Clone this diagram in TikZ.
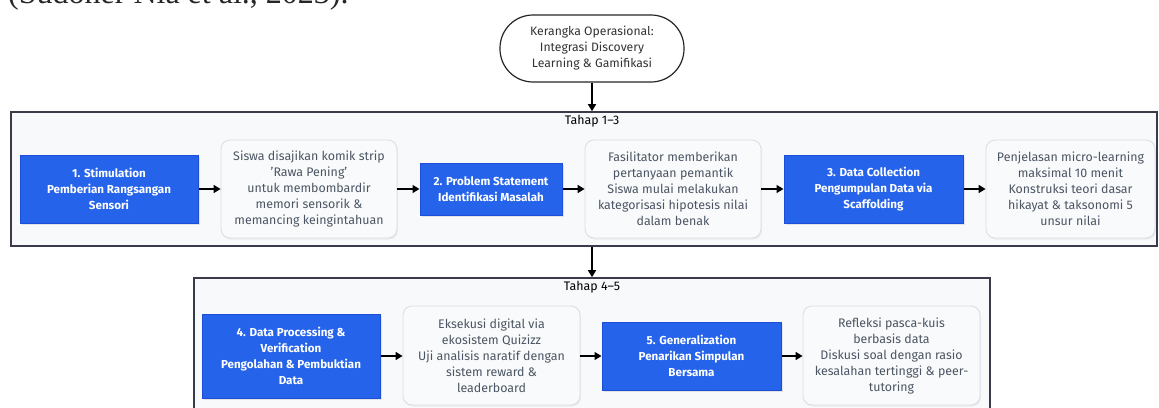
\documentclass[tikz,border=0pt]{standalone}
\usepackage{fontspec}
\setmainfont{Fira Sans}
\newfontfamily\citefont{Liberation Serif}
\usetikzlibrary{arrows.meta,shadows}
\definecolor{stepblue}{HTML}{2563EB}
\definecolor{stepborder}{HTML}{1D4ED8}
\definecolor{grpfill}{HTML}{F8F9FB}
\definecolor{grpborder}{HTML}{3A3A4A}
\definecolor{descfill}{HTML}{F9FAFB}
\definecolor{descborder}{HTML}{D8DDE5}
\definecolor{desctext}{HTML}{4B5563}
\tikzset{
  x=1pt,y=1pt,
  stepbox/.style={draw=stepborder, line width=1pt, fill=stepblue, text=white,
    font=\fontsize{11.6}{16}\selectfont\bfseries, align=center, inner sep=0pt,
    drop shadow={opacity=0.18, shadow xshift=1.5pt, shadow yshift=-1.5pt}},
  descbox/.style={draw=descborder, line width=0.8pt, fill=descfill, text=desctext,
    rounded corners=9pt, font=\fontsize{12.4}{16}\selectfont, align=center, inner sep=0pt,
    drop shadow={opacity=0.10, shadow xshift=1pt, shadow yshift=-1.5pt}},
  grpbox/.style={draw=grpborder, line width=1.6pt, fill=grpfill, inner sep=0pt},
  grplabel/.style={font=\fontsize{12.4}{14}\selectfont, text=black, inner sep=0pt},
  startbox/.style={draw=black!85, line width=1.2pt, fill=white, rounded corners=33pt,
    font=\fontsize{12.2}{16}\selectfont, text=black!80, align=center, inner sep=0pt},
  conn/.style={draw=black, line width=1.4pt, -{Triangle[length=7pt,width=8pt]}},
}
\begin{document}
\begin{tikzpicture}
\useasboundingbox (0,0) rectangle (1159,-407);
\clip (0,0) rectangle (1159,-407);
\node[anchor=base west, inner sep=0pt, font=\citefont\fontsize{32}{34}\selectfont, text=black!85] (cite) at (8,-3.5) {(Sudoner Nia et al., 2023).};

% start
\node[startbox, minimum width=184, minimum height=67] (start) at (592,-48.5)
  {Kerangka Operasional:\\Integrasi Discovery\\Learning \& Gamifikasi};

% group 1
\node[grpbox, minimum width=1146, minimum height=134] (g1) at (584,-179) {};
\node[grplabel] (g1lab) at (592,-121) {Tahap 1–3};

\node[stepbox, minimum width=178, minimum height=68] (b1) at (109,-189)
  {1. Stimulation\\Pemberian Rangsangan\\Sensori};
\node[descbox, minimum width=176, minimum height=98] (d1) at (309,-189)
  {Siswa disajikan komik strip\\'Rawa Pening'\\untuk membombardir\\memori sensorik \&\\memancing keingintahuan};
\node[stepbox, minimum width=142, minimum height=52] (b2) at (491,-189)
  {2. Problem Statement\\Identifikasi Masalah};
\node[descbox, minimum width=176, minimum height=98] (d2) at (673,-189)
  {Fasilitator memberikan\\pertanyaan pemantik\\Siswa mulai melakukan\\kategorisasi hipotesis nilai\\dalam benak};
\node[stepbox, minimum width=179, minimum height=68] (b3) at (873.5,-189)
  {3. Data Collection\\Pengumpulan Data via\\Scaffolding};
\node[descbox, minimum width=169, minimum height=98] (d3) at (1070.5,-189)
  {Penjelasan micro-learning\\maksimal 10 menit\\Konstruksi teori dasar\\hikayat \& taksonomi 5\\unsur nilai};

% group 2
\node[grpbox, minimum width=796, minimum height=150] (g2) at (592,-353) {};
\node[grplabel] (g2lab) at (592,-287) {Tahap 4–5};

\node[stepbox, minimum width=178, minimum height=84] (b4) at (291,-356)
  {4. Data Processing \&\\Verification\\Pengolahan \& Pembuktian\\Data};
\node[descbox, minimum width=177, minimum height=99] (d4) at (491.5,-355.5)
  {Eksekusi digital via\\ekosistem Quizizz\\Uji analisis naratif dengan\\sistem reward \&\\leaderboard};
\node[stepbox, minimum width=179, minimum height=68] (b5) at (691.5,-356)
  {5. Generalization\\Penarikan Simpulan\\Bersama};
\node[descbox, minimum width=177, minimum height=99] (d5) at (891.5,-355.5)
  {Refleksi pasca-kuis\\berbasis data\\Diskusi soal dengan rasio\\kesalahan tertinggi \& peer-\\tutoring};

% connectors
\draw[conn] (start.south) -- (start.south |- g1.north);
\draw[conn] (g1.south -| start.south) -- (g2.north -| start.south);
\draw[conn] (b1.east) -- (d1.west |- b1.east);
\draw[conn] (d1.east |- b2.west) -- (b2.west);
\draw[conn] (b2.east) -- (d2.west |- b2.east);
\draw[conn] (d2.east |- b3.west) -- (b3.west);
\draw[conn] (b3.east) -- (d3.west |- b3.east);
\draw[conn] (b4.east) -- (d4.west |- b4.east);
\draw[conn] (d4.east |- b5.west) -- (b5.west);
\draw[conn] (b5.east) -- (d5.west |- b5.east);
\end{tikzpicture}
\end{document}
